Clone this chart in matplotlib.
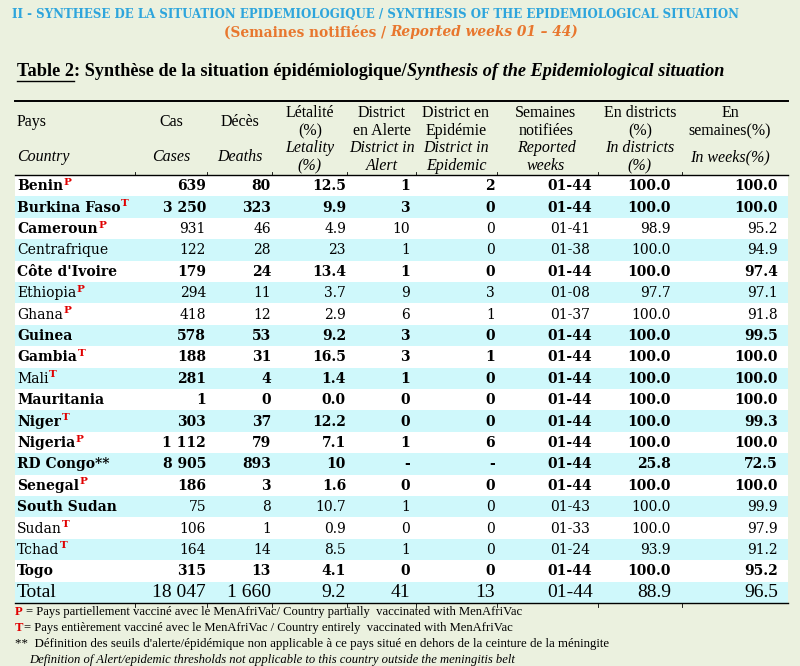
import matplotlib
matplotlib.use("Agg")
import matplotlib.pyplot as plt
from matplotlib import font_manager as fm
from matplotlib.patches import Rectangle
from matplotlib.lines import Line2D

# ---------------- data ----------------
countries = ["Benin", "Burkina Faso", "Cameroun", "Centrafrique", "Côte d'Ivoire",
             "Ethiopia", "Ghana", "Guinea", "Gambia", "Mali", "Mauritania", "Niger",
             "Nigeria", "RD Congo**", "Senegal", "South Sudan", "Sudan", "Tchad", "Togo"]
marks = ["P", "T", "P", "", "", "P", "P", "", "T", "T", "", "T", "P", "", "P", "", "T", "T", ""]
cases = [639, 3250, 931, 122, 179, 294, 418, 578, 188, 281, 1, 303, 1112, 8905, 186, 75, 106, 164, 315]
deaths = [80, 323, 46, 28, 24, 11, 12, 53, 31, 4, 0, 37, 79, 893, 3, 8, 1, 14, 13]
lethality = ["12.5", "9.9", "4.9", "23", "13.4", "3.7", "2.9", "9.2", "16.5", "1.4", "0.0",
             "12.2", "7.1", "10", "1.6", "10.7", "0.9", "8.5", "4.1"]
alert = [1, 3, 10, 1, 1, 9, 6, 3, 3, 1, 0, 0, 1, None, 0, 1, 0, 1, 0]
epidemic = [2, 0, 0, 0, 0, 3, 1, 0, 1, 0, 0, 0, 6, None, 0, 0, 0, 0, 0]
weeks = ["01-44", "01-44", "01-41", "01-38", "01-44", "01-08", "01-37", "01-44", "01-44",
         "01-44", "01-44", "01-44", "01-44", "01-44", "01-44", "01-43", "01-33", "01-24", "01-44"]
pct_districts = [100.0, 100.0, 98.9, 100.0, 100.0, 97.7, 100.0, 100.0, 100.0, 100.0, 100.0,
                 100.0, 100.0, 25.8, 100.0, 100.0, 100.0, 93.9, 100.0]
pct_weeks = [100.0, 100.0, 95.2, 94.9, 97.4, 97.1, 91.8, 99.5, 100.0, 100.0, 100.0,
             99.3, 100.0, 72.5, 100.0, 99.9, 97.9, 91.2, 95.2]
name_bold = [1, 1, 1, 0, 1, 0, 0, 1, 1, 0, 1, 1, 1, 1, 1, 1, 0, 0, 1]
value_bold = [1, 1, 0, 0, 1, 0, 0, 1, 1, 1, 1, 1, 1, 1, 1, 0, 0, 0, 1]
total_label = "Total"
total_values = ["18 047", "1 660", "9.2", "41", "13", "01-44", "88.9", "96.5"]

header_fr = [["Pays"], ["Cas"], ["Décès"], ["Létalité", "(%)"], ["District", "en Alerte"],
             ["District en", "Epidémie"], ["Semaines", "notifiées"], ["En districts", "(%)"],
             ["En", "semaines(%)"]]
header_en = [["Country"], ["Cases"], ["Deaths"], ["Letality", "(%)"], ["District in", "Alert"],
             ["District in", "Epidemic"], ["Reported", "weeks"], ["In districts", "(%)"],
             ["In weeks(%)"]]

title1 = "II - SYNTHESE DE LA SITUATION EPIDEMIOLOGIQUE / SYNTHESIS OF THE EPIDEMIOLOGICAL SITUATION"
title2a = "(Semaines notifiées /"
title2b = "Reported weeks 01 – 44)"
table_label = "Table 2"
table_fr = ": Synthèse de la situation épidémiologique/"
table_en = "Synthesis of the Epidemiological situation"
foot_p = "= Pays partiellement vacciné avec le MenAfriVac/ Country partially  vaccinated with MenAfriVac"
foot_t = "= Pays entièrement vacciné avec le MenAfriVac / Country entirely  vaccinated with MenAfriVac"
foot_s1 = "**  Définition des seuils d'alerte/épidémique non applicable à ce pays situé en dehors de la ceinture de la méningite"
foot_s2 = "Definition of Alert/epidemic thresholds not applicable to this country outside the meningitis belt"

# ---------------- style ----------------
BG = "#EBF1DF"
CYAN = "#CFF8FB"
BLUE = "#2EA5DC"
ORANGE = "#E8772E"
RED = "#E00000"
SERIF_N = "Liberation Serif"
SERIF_D = "DejaVu Serif"

_cond = [f for f in fm.fontManager.ttflist
         if f.name == "DejaVu Serif" and str(f.stretch) in ("condensed", "semi-condensed")]
if _cond:
    TITLE_KW = dict(family="DejaVu Serif", stretch="condensed")
else:
    TITLE_KW = dict(family=SERIF_N)

W, H = 800, 666
fig = plt.figure(figsize=(W / 100, H / 100), dpi=100)
fig.patch.set_facecolor(BG)
ax = fig.add_axes([0, 0, 1, 1])
ax.set_xlim(0, W)
ax.set_ylim(H, 0)
ax.axis("off")
ax.set_facecolor(BG)
renderer = fig.canvas.get_renderer()


def twidth(t):
    return t.get_window_extent(renderer).width


def space_w(kw, size):
    a = ax.text(0, 0, "a a", fontsize=size, **kw)
    b = ax.text(0, 0, "aa", fontsize=size, **kw)
    w = twidth(a) - twidth(b)
    a.remove(); b.remove()
    return w


def runs(x, y, parts, size, ha="left", fit=None, va="center"):
    """parts: list of (text, kw, n_spaces_after)"""
    def build(sz):
        objs, total = [], 0
        for s, kw, gap in parts:
            t = ax.text(0, y, s, fontsize=sz, va=va, ha="left", **kw)
            w = twidth(t)
            g = space_w(kw, sz) * gap if gap else 0
            objs.append((t, w, g))
            total += w + g
        return objs, total
    objs, total = build(size)
    if fit is not None:
        for t, _, _ in objs:
            t.remove()
        size = size * fit / total
        objs, total = build(size)
    if ha == "left":
        cx = x
    elif ha == "center":
        cx = x - total / 2
    else:
        cx = x - total
    out = []
    for t, w, g in objs:
        t.set_x(cx)
        out.append((t, cx, w))
        cx += w + g
    return out, size


# ---------------- titles ----------------
runs(12, 14, [(title1, dict(weight="bold", color=BLUE, **TITLE_KW), 0)], 11, fit=730)
runs(401, 32, [(title2a, dict(weight="bold", color=ORANGE, **TITLE_KW), 1),
               (title2b, dict(weight="bold", style="italic", color=ORANGE, **TITLE_KW), 0)],
     12, ha="center", fit=353)
tl, _ = runs(17, 72, [(table_label, dict(family=SERIF_N, weight="bold", color="black"), 0),
                      (table_fr, dict(family=SERIF_N, weight="bold", color="black"), 0),
                      (table_en, dict(family=SERIF_N, weight="bold", style="italic", color="black"), 0)],
             12, fit=703)
t0, x0, w0 = tl[0]
ax.add_line(Line2D([x0, x0 + w0], [80.5, 80.5], color="black", lw=1.0))

# ---------------- table geometry ----------------
col_edges = [15, 135, 207, 272, 347, 416, 497, 598, 682, 788]
table_top = 101
header_bottom = 174.5
row_top = 175
row_h = 21.4
n_rows = len(countries) + 1
table_bottom = row_top + n_rows * row_h

for i in range(n_rows):
    color = "white" if i % 2 == 0 else CYAN
    ax.add_patch(Rectangle((col_edges[0], row_top + i * row_h), col_edges[-1] - col_edges[0], row_h,
                           facecolor=color, edgecolor="none", zorder=0))

ax.add_line(Line2D([col_edges[0], col_edges[-1]], [table_top, table_top], color="black", lw=1.4))
ax.add_line(Line2D([col_edges[0], col_edges[-1]], [header_bottom, header_bottom], color="black", lw=1.0))
ax.add_line(Line2D([col_edges[0], col_edges[-1]], [table_bottom, table_bottom], color="black", lw=1.0))
for xe in col_edges[1:-1]:
    ax.add_line(Line2D([xe, xe], [header_bottom - 3, header_bottom], color="black", lw=0.6))
    ax.add_line(Line2D([xe, xe], [table_bottom, table_bottom + 4], color="black", lw=0.6))

# ---------------- header ----------------
hdr_kw = dict(family=SERIF_N, color="black")
hdr_centers = [None, 171, 240, 310, 382, 456, 546, 640, 730]
for j in range(len(header_fr)):
    fr, en = header_fr[j], header_en[j]
    x = 17 if j == 0 else hdr_centers[j]
    ha = "left" if j == 0 else "center"
    fr_y = [122] if len(fr) == 1 else [113, 131]
    en_y = [157] if len(en) == 1 else [148, 166]
    for s, yy in zip(fr, fr_y):
        ax.text(x, yy, s, fontsize=11.5, ha=ha, va="center", **hdr_kw)
    for s, yy in zip(en, en_y):
        ax.text(x, yy, s, fontsize=11.5, ha=ha, va="center", style="italic", **hdr_kw)

# ---------------- body ----------------
val_x = [206, 271, 346, 410, 495, 570, 671, 778]
val_ha = ["right", "right", "right", "right", "right", "center", "right", "right"]
DSIZE = 10


def fmt_int(v):
    return "-" if v is None else f"{v:,}".replace(",", " ")


for i, name in enumerate(countries):
    yc = row_top + (i + 0.5) * row_h + 0.5
    nw = "bold" if name_bold[i] else "normal"
    vw = "bold" if value_bold[i] else "normal"
    t = ax.text(17, yc, name, fontsize=DSIZE, family=SERIF_D, weight=nw, ha="left", va="center", color="black")
    if marks[i]:
        w = twidth(t)
        ax.text(17 + w + 0.5, yc - 4, marks[i], fontsize=7.5, family=SERIF_D, weight="bold",
                color=RED, ha="left", va="center")
    vals = [fmt_int(cases[i]), fmt_int(deaths[i]), lethality[i], fmt_int(alert[i]),
            fmt_int(epidemic[i]), weeks[i], f"{pct_districts[i]:.1f}", f"{pct_weeks[i]:.1f}"]
    for v, xx, ha in zip(vals, val_x, val_ha):
        ax.text(xx, yc, v, fontsize=DSIZE, family=SERIF_D, weight=vw, ha=ha, va="center", color="black")

yc = row_top + (n_rows - 0.5) * row_h + 0.5
ax.text(17, yc, total_label, fontsize=14, family=SERIF_N, ha="left", va="center", color="black")
for v, xx, ha in zip(total_values, val_x, val_ha):
    ax.text(xx, yc, v, fontsize=14, family=SERIF_N, ha=ha, va="center", color="black")

# ---------------- footnotes ----------------
fkw = dict(family=SERIF_N, color="black")
runs(15, 612, [("P", dict(family=SERIF_N, weight="bold", color=RED), 1), (foot_p, fkw, 0)], 9, fit=510)
runs(15, 628, [("T", dict(family=SERIF_N, weight="bold", color=RED), 0), (foot_t, fkw, 0)], 9, fit=498)
runs(15, 644, [(foot_s1, fkw, 0)], 9, fit=596)
runs(29, 660, [(foot_s2, dict(family=SERIF_N, style="italic", color="black"), 0)], 9, fit=486)

fig.savefig("out.png", dpi=100, facecolor=BG)
